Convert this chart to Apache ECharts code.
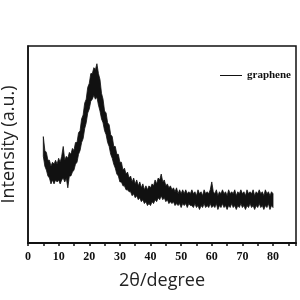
<!DOCTYPE html>
<html>
<head>
<meta charset="utf-8">
<script src="https://cdn.jsdelivr.net/npm/echarts@6/dist/echarts.min.js"></script>
<style>
  html, body { margin: 0; padding: 0; background: #fff; }
  #main { width: 300px; height: 300px; }
</style>
</head>
<body>
<div id="main"></div>
<script>
// 2θ from 5 to 80 every 0.5 degree
const twoTheta = []
for (let i = 0; i <= 150; i++) twoTheta.push(5 + i * 0.5)

// the noisy trace is drawn as a band: upper and lower edge
// (arbitrary units, 0 = frame bottom, 100 = frame top)
const upper = [
  54, 47, 46, 42, 42, 39, 41, 40, 42, 40,   // 5 - 9.5
  43, 41, 44, 49, 42, 44, 43, 46, 45, 48,   // 10 - 14.5
  47, 51, 51, 56, 57, 63, 65, 71, 73, 79,   // 15 - 19.5
  81, 86, 86, 89, 88, 91, 86, 83, 76, 73,   // 20 - 24.5
  67, 66, 61, 60, 55, 54, 49, 49, 45, 45,   // 25 - 29.5
  41, 41, 37, 38, 35, 36, 33, 34, 31, 33,   // 30 - 34.5
  30, 32, 29, 31, 28, 30, 27, 29, 27, 29,   // 35 - 39.5
  28, 30, 29, 32, 30, 33, 32, 35, 31, 32,   // 40 - 44.5
  29, 30, 28, 29, 27, 28, 26, 28, 25, 27,   // 45 - 49.5
  25, 27, 25, 27, 25, 26, 25, 27, 25, 26,   // 50 - 54.5
  24, 27, 25, 26, 24, 27, 25, 26, 25, 27,   // 55 - 59.5
  31, 26, 25, 27, 24, 26, 25, 27, 25, 26,   // 60 - 64.5
  24, 27, 25, 26, 25, 27, 24, 26, 25, 27,   // 65 - 69.5
  25, 26, 24, 27, 25, 26, 25, 27, 24, 26,   // 70 - 74.5
  25, 27, 25, 26, 24, 27, 25, 26, 24, 26,   // 75 - 79.5
  25                                        // 80
]
const lower = [
  44, 39, 37, 34, 33, 30, 32, 30, 32, 31,
  32, 30, 32, 33, 31, 33, 28, 34, 34, 36,
  37, 40, 41, 45, 47, 51, 53, 58, 61, 66,
  68, 72, 73, 75, 73, 74, 70, 67, 63, 61,
  57, 55, 51, 49, 45, 43, 40, 38, 35, 34,
  31, 31, 29, 29, 27, 27, 26, 26, 24, 25,
  23, 24, 22, 23, 21, 22, 20, 21, 19, 20,
  19, 21, 20, 22, 21, 23, 22, 24, 22, 23,
  21, 22, 20, 21, 20, 21, 19, 20, 19, 20,
  18, 20, 19, 20, 18, 20, 19, 19, 18, 20,
  18, 19, 17, 19, 18, 20, 18, 19, 18, 20,
  18, 19, 18, 20, 17, 19, 18, 20, 18, 19,
  17, 19, 18, 20, 18, 19, 17, 19, 18, 20,
  18, 19, 17, 19, 18, 20, 18, 19, 17, 19,
  18, 20, 18, 19, 17, 19, 18, 20, 17, 19,
  18
]

const seriesName = 'graphene'
const xTicks = { min: 0, max: 87.5, interval: 10 }

const chart = echarts.init(document.getElementById('main'))

// band polygon: upper edge left to right, then lower edge back
const renderBand = (params, api) => {
  const pts = []
  for (let i = 0; i < twoTheta.length; i++) pts.push(api.coord([twoTheta[i], upper[i]]))
  for (let i = twoTheta.length - 1; i >= 0; i--) pts.push(api.coord([twoTheta[i], lower[i]]))
  return {
    type: 'polygon',
    shape: { points: pts },
    style: { fill: '#111', stroke: '#111', lineWidth: 0.8 }
  }
}

const option = {
  animation: false,
  grid: {
    left: 28,
    right: 4,
    top: 46,
    bottom: 57,
    outerBoundsMode: 'none',
    show: true,
    borderColor: '#111',
    borderWidth: 1.5
  },
  legend: {
    data: [seriesName],
    left: 215,
    top: 65,
    icon: 'rect',
    itemWidth: 22,
    itemHeight: 1,
    itemGap: 5,
    textStyle: {
      fontFamily: 'Liberation Serif',
      fontWeight: 'bold',
      fontSize: 11,
      color: '#111'
    }
  },
  xAxis: {
    type: 'value',
    min: xTicks.min,
    max: xTicks.max,
    interval: xTicks.interval,
    name: '2θ/degree',
    nameLocation: 'middle',
    nameGap: 29,
    nameTextStyle: {
      fontFamily: 'Open Sans',
      fontSize: 18,
      color: '#222'
    },
    axisLine: { lineStyle: { color: '#111', width: 2 } },
    axisTick: { inside: false, length: 3, lineStyle: { color: '#111', width: 1.5 } },
    minorTick: { show: true, splitNumber: 2, length: 3, lineStyle: { color: '#111', width: 1.5 } },
    splitLine: { show: false },
    axisLabel: {
      showMaxLabel: false,
      margin: 8,
      fontFamily: 'Liberation Serif',
      fontWeight: 'bold',
      fontSize: 12,
      color: '#111'
    }
  },
  yAxis: {
    type: 'value',
    min: 0,
    max: 100,
    name: 'Intensity (a.u.)',
    nameLocation: 'middle',
    nameGap: 10,
    nameTextStyle: {
      fontFamily: 'Open Sans',
      fontSize: 18,
      color: '#222'
    },
    axisLine: { show: true, lineStyle: { color: '#111', width: 1.5 } },
    axisTick: { show: false },
    axisLabel: { show: false },
    splitLine: { show: false }
  },
  series: [
    {
      name: seriesName,
      type: 'custom',
      renderItem: renderBand,
      data: [[twoTheta[0], upper[0]]],
      itemStyle: { color: '#111' }
    }
  ]
}

chart.setOption(option)
</script>
</body>
</html>
